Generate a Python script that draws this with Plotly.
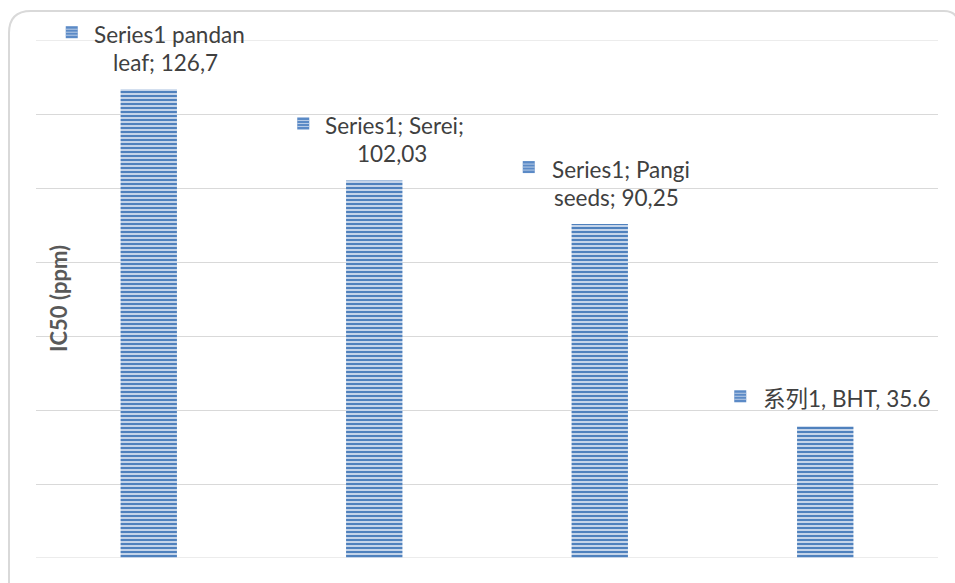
import plotly.graph_objects as go

# Samples and their IC50 values (ppm)
categories = ["pandan leaf", "Serei", "Pangi seeds", "BHT"]
ic50 = [126.7, 102.03, 90.25, 35.6]

# Data-label text: first line and second line (value written with its own separator)
label_line1 = ["Series1 pandan", "Series1; Serei;", "Series1; Pangi", "系列1, BHT, " + f"{ic50[3]}"]
label_line2 = ["leaf; " + f"{ic50[0]}".replace(".", ","),
               f"{ic50[1]}".replace(".", ","),
               "seeds; " + f"{ic50[2]}".replace(".", ","),
               None]

y_title = "IC50 (ppm)"

# Layout constants (pixels)
W, H = 955, 583
ML, MR, MT, MB = 36, 17, 40, 25
PW, PH = W - ML - MR, H - MT - MB
YMAX = 140

BLUE = "#4f81bd"
TXT = "#404040"
GRID = "#d9d9d9"
FONT = "Lato, Noto Sans CJK SC, sans-serif"
FS = 22.5

# per-label offsets in pixels relative to the bar centre: key left, text left, line-2 centre
key_dx = [-83, -77, -77, -91]
txt_dx = [-57, -51, -50, -64]
l2_dx = [17, 18, 17, 0]

fig = go.Figure()
fig.add_trace(go.Bar(
    x=categories, y=ic50, width=0.25,
    marker=dict(color=BLUE, line=dict(width=0),
                pattern=dict(shape="-", fgcolor="#d2deef", bgcolor=BLUE,
                             size=4, solidity=0.45, fillmode="replace")),
    hoverinfo="skip", showlegend=False,
))

def px2x(px):
    return (px - ML) / PW

def py2y(py):
    return (H - MB - py) / PH

annotations = []
shapes = []
n = len(categories)
for i, cat in enumerate(categories):
    two = label_line2[i] is not None
    annotations.append(dict(
        x=cat, y=ic50[i], xref="x", yref="y", text=label_line1[i],
        xanchor="left", yanchor="middle", xshift=txt_dx[i],
        yshift=(55 if two else 28),
        showarrow=False, font=dict(family=FONT, size=FS, color=TXT)))
    if two:
        annotations.append(dict(
            x=cat, y=ic50[i], xref="x", yref="y", text=label_line2[i],
            xanchor="center", yanchor="middle", xshift=l2_dx[i], yshift=27,
            showarrow=False, font=dict(family=FONT, size=FS, color=TXT)))
    # legend key square (paper-referenced so it is not clipped by the plot area)
    xc = (i + 0.5) / n
    yc = ic50[i] / YMAX
    ky = 57 if two else 30
    shapes.append(dict(
        type="rect", xref="paper", yref="paper", xsizemode="pixel", ysizemode="pixel",
        xanchor=xc, yanchor=yc, x0=key_dx[i], x1=key_dx[i] + 12, y0=ky - 6, y1=ky + 6,
        fillcolor="#5b8ac6", line=dict(width=0), layer="above"))
    for k in (-3, 0, 3):
        shapes.append(dict(
            type="line", xref="paper", yref="paper", xsizemode="pixel", ysizemode="pixel",
            xanchor=xc, yanchor=yc, x0=key_dx[i], x1=key_dx[i] + 12, y0=ky + k, y1=ky + k,
            line=dict(color="#b9cce6", width=1), layer="above"))

annotations.append(dict(
    x=px2x(58), y=0.5, xref="paper", yref="paper", text="<b>" + y_title + "</b>",
    textangle=-90, showarrow=False, xanchor="center", yanchor="middle",
    font=dict(family=FONT, size=22, color="#595959")))

# gridlines at the two ends of the value range
for v in (0, YMAX):
    shapes.append(dict(type="line", xref="paper", yref="y", x0=0, x1=1, y0=v, y1=v,
                       line=dict(color=GRID, width=1), layer="below"))

# rounded chart-area border (runs off the right and bottom edges)
x0, x1 = px2x(9), px2x(958)
y0, y1 = py2y(595), py2y(11)
rx, ry = 22 / PW, 22 / PH
rx2, ry2 = 14 / PW, 14 / PH
path = (f"M {x0+rx},{y1} L {x1-rx2},{y1} Q {x1},{y1} {x1},{y1-ry2} L {x1},{y0} L {x0},{y0} "
        f"L {x0},{y1-ry} Q {x0},{y1} {x0+rx},{y1} Z")
shapes.append(dict(type="path", xref="paper", yref="paper", path=path,
                   line=dict(color=GRID, width=2), fillcolor="rgba(0,0,0,0)", layer="below"))

fig.update_layout(
    width=W, height=H, margin=dict(l=ML, r=MR, t=MT, b=MB),
    paper_bgcolor="white", plot_bgcolor="white",
    annotations=annotations, shapes=shapes,
    xaxis=dict(showticklabels=False, showgrid=False, zeroline=False, showline=False,
               ticks="", range=[-0.5, 3.5]),
    yaxis=dict(range=[0, YMAX], dtick=20, showticklabels=False, showgrid=True,
               gridcolor=GRID, gridwidth=1, zeroline=False, showline=False, ticks=""),
    bargap=0.75,
)

fig.write_html("out.html")
